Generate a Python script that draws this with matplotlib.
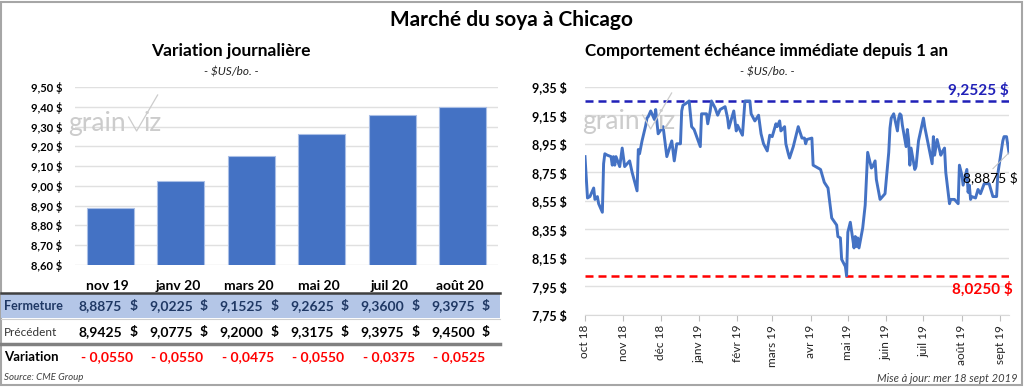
import numpy as np
import pandas as pd
import matplotlib
matplotlib.use('Agg')
import matplotlib.pyplot as plt
import matplotlib.transforms as mtransforms
from matplotlib.lines import Line2D
from matplotlib.patches import Rectangle

plt.rcParams['font.family'] = ['Lato', 'DejaVu Sans']

# ---- data: left panel (contrats)
contrats = ['nov 19', 'janv 20', 'mars 20', 'mai 20', 'juil 20', 'août 20']
fermeture = [8.8875, 9.0225, 9.1525, 9.2625, 9.3600, 9.3975]
precedent = [8.9425, 9.0775, 9.2000, 9.3175, 9.3975, 9.4500]
variation = [-0.0550, -0.0550, -0.0475, -0.0550, -0.0375, -0.0525]
yticks_bar = [8.60, 8.70, 8.80, 8.90, 9.00, 9.10, 9.20, 9.30, 9.40, 9.50]

# ---- data: right panel (echeance immediate)
dates = ['2018-10-01', '2018-10-03', '2018-10-05', '2018-10-08', '2018-10-09', '2018-10-11',
         '2018-10-12', '2018-10-15', '2018-10-16', '2018-10-17', '2018-10-19', '2018-10-22',
         '2018-10-23', '2018-10-24', '2018-10-25', '2018-10-26', '2018-10-29', '2018-10-31',
         '2018-11-02', '2018-11-06', '2018-11-08', '2018-11-12', '2018-11-13', '2018-11-14',
         '2018-11-16', '2018-11-19', '2018-11-20', '2018-11-21', '2018-11-23', '2018-11-26',
         '2018-11-27', '2018-11-29', '2018-12-03', '2018-12-06', '2018-12-10', '2018-12-12',
         '2018-12-14', '2018-12-17', '2018-12-18', '2018-12-19', '2018-12-21', '2018-12-24',
         '2018-12-26', '2018-12-28', '2019-01-02', '2019-01-03', '2019-01-07', '2019-01-08',
         '2019-01-10', '2019-01-11', '2019-01-14', '2019-01-16', '2019-01-18', '2019-01-22',
         '2019-01-24', '2019-01-25', '2019-01-29', '2019-01-31', '2019-02-01', '2019-02-05',
         '2019-02-07', '2019-02-11', '2019-02-12', '2019-02-15', '2019-02-18', '2019-02-20',
         '2019-02-22', '2019-02-25', '2019-02-27', '2019-03-01', '2019-03-04', '2019-03-05',
         '2019-03-07', '2019-03-08', '2019-03-11', '2019-03-12', '2019-03-14', '2019-03-15',
         '2019-03-18', '2019-03-20', '2019-03-22', '2019-03-25', '2019-03-27', '2019-03-28',
         '2019-03-29', '2019-04-02', '2019-04-03', '2019-04-05', '2019-04-09', '2019-04-10',
         '2019-04-12', '2019-04-15', '2019-04-16', '2019-04-18', '2019-04-22', '2019-04-23',
         '2019-04-25', '2019-04-26', '2019-04-29', '2019-04-30', '2019-05-01', '2019-05-03',
         '2019-05-06', '2019-05-07', '2019-05-08', '2019-05-09', '2019-05-10', '2019-05-13',
         '2019-05-15', '2019-05-17', '2019-05-20', '2019-05-21', '2019-05-23', '2019-05-24',
         '2019-05-27', '2019-05-31', '2019-06-03', '2019-06-04', '2019-06-05', '2019-06-07',
         '2019-06-10', '2019-06-11', '2019-06-12', '2019-06-13', '2019-06-14', '2019-06-17',
         '2019-06-18', '2019-06-19', '2019-06-20', '2019-06-21', '2019-06-24', '2019-06-25',
         '2019-06-27', '2019-07-01', '2019-07-02', '2019-07-05', '2019-07-08', '2019-07-09',
         '2019-07-10', '2019-07-12', '2019-07-15', '2019-07-16', '2019-07-18', '2019-07-19',
         '2019-07-22', '2019-07-23', '2019-07-26', '2019-07-29', '2019-07-30', '2019-08-01',
         '2019-08-02', '2019-08-05', '2019-08-06', '2019-08-07', '2019-08-08', '2019-08-09',
         '2019-08-12', '2019-08-14', '2019-08-16', '2019-08-19', '2019-08-23', '2019-08-26',
         '2019-08-29', '2019-08-30', '2019-09-03', '2019-09-04', '2019-09-06', '2019-09-08']
prix = [8.86, 8.57, 8.58, 8.64, 8.56, 8.58,
        8.53, 8.47, 8.81, 8.88, 8.87, 8.86,
        8.80, 8.86, 8.80, 8.86, 8.79, 8.92,
        8.79, 8.83, 8.75, 8.62, 8.91, 8.88,
        8.97, 9.08, 9.13, 9.14, 9.18, 9.12,
        9.19, 9.02, 9.07, 8.86, 8.97, 8.83,
        8.95, 8.95, 9.18, 9.22, 9.23, 9.25,
        9.07, 9.05, 8.93, 9.16, 9.16, 9.09,
        9.18, 9.25, 9.20, 9.15, 9.19, 9.21,
        9.13, 9.06, 9.18, 9.04, 9.08, 9.01,
        9.25, 9.25, 9.16, 9.11, 9.15, 9.02,
        8.95, 8.90, 9.01, 9.00, 9.09, 9.07,
        9.11, 9.04, 9.07, 8.95, 8.88, 8.85,
        8.93, 9.00, 9.07, 8.99, 8.99, 8.95,
        8.98, 8.99, 8.80, 8.79, 8.77, 8.74,
        8.68, 8.64, 8.57, 8.43, 8.38, 8.30,
        8.29, 8.14, 8.09, 8.025, 8.33, 8.40,
        8.22, 8.30, 8.23, 8.29, 8.22, 8.36,
        8.52, 8.89, 8.78, 8.79, 8.83, 8.70,
        8.56, 8.60, 8.89, 9.06, 9.13, 9.16,
        9.04, 9.13, 9.16, 9.15, 9.08, 8.93,
        9.05, 8.98, 8.80, 8.92, 8.77, 8.79,
        8.97, 9.13, 9.07, 8.94, 8.81, 9.00,
        8.87, 8.98, 8.87, 8.89, 8.92, 8.75,
        8.53, 8.56, 8.56, 8.53, 8.80, 8.73,
        8.66, 8.77, 8.61, 8.66, 8.56, 8.58,
        8.57, 8.63, 8.60, 8.67, 8.67, 8.58,
        8.58, 8.74, 8.97, 9.00, 9.00, 8.8875]
haut = 9.2525
bas = 8.0250
dernier = 8.8875
mois = ['2018-10-01', '2018-11-01', '2018-12-01', '2019-01-01', '2019-02-01', '2019-03-01',
        '2019-04-01', '2019-05-01', '2019-06-01', '2019-07-01', '2019-08-01', '2019-09-01']
mois_labels = ['oct 18', 'nov 18', 'déc 18', 'janv 19', 'févr 19', 'mars 19',
               'avr 19', 'mai 19', 'juin 19', 'juil 19', 'août 19', 'sept 19']
yticks_line = [7.75, 7.95, 8.15, 8.35, 8.55, 8.75, 8.95, 9.15, 9.35]

W, H = 1024, 387
def fx(x): return x / W
def fy(y): return 1 - y / H

def fr(v, n=2):
    return ('%.*f' % (n, v)).replace('.', ',')

blue = '#4472c4'
grid = '#e0e0e0'
fig = plt.figure(figsize=(10.24, 3.87), dpi=100)

# border
fig.patches.append(Rectangle((fx(1), fy(385)), fx(1021), 383 / H, transform=fig.transFigure,
                             fill=False, edgecolor='#a6a6a6', linewidth=1.5))

fig.text(fx(511), fy(20), 'Marché du soya à Chicago', ha='center', va='center',
         fontsize=15, fontweight='bold')

# ---------------- left bars
ax1 = fig.add_axes([fx(75), fy(265), fx(498 - 75), (265 - 87) / H])
x = np.arange(len(contrats))
ax1.bar(x, fermeture, width=0.66, color=blue, edgecolor='#aabfe6', linewidth=0.8, zorder=3)
ax1.set_xlim(-0.5, len(contrats) - 0.5)
ax1.set_ylim(8.60, 9.50)
ax1.set_yticks(yticks_bar)
ax1.set_yticklabels([fr(v) + ' $' for v in yticks_bar], fontsize=8, fontweight='bold')
ax1.set_xticks([])
ax1.yaxis.grid(True, color=grid, linewidth=1, zorder=0)
ax1.tick_params(axis='y', length=0, pad=9)
for s in ax1.spines.values():
    s.set_visible(False)

fig.text(fx(231), fy(51), 'Variation journalière', ha='center', va='center',
         fontsize=12.5, fontweight='bold')
fig.text(fx(231), fy(72), '- $US/bo. -', ha='center', va='center',
         fontsize=8.5, style='italic', color='#222222')

# table under bars
tr = mtransforms.blended_transform_factory(ax1.transData, fig.transFigure)
fig.patches.append(Rectangle((fx(1), fy(318)), fx(499), 25 / H, transform=fig.transFigure,
                             facecolor='#b4c6e7', edgecolor='none'))
fig.lines.append(Line2D([fx(1), fx(500)], [fy(293), fy(293)], transform=fig.transFigure,
                        color='#404040', linewidth=1.8))
fig.lines.append(Line2D([fx(1), fx(500)], [fy(318.5), fy(318.5)], transform=fig.transFigure,
                        color='#d0d0d0', linewidth=0.8))
fig.lines.append(Line2D([fx(1), fx(500)], [fy(344), fy(344)], transform=fig.transFigure,
                        color='#808080', linewidth=2.5))
fig.text(fx(4), fy(306), 'Fermeture', ha='left', va='center', fontsize=9,
         fontweight='bold', color='#1f3864')
fig.text(fx(4), fy(332), 'Précédent', ha='left', va='center', fontsize=8.5, color='#333333')
fig.text(fx(4), fy(357), 'Variation', ha='left', va='center', fontsize=9.5, fontweight='bold')
for i in range(len(contrats)):
    fig.text(i - 0.04, fy(286), contrats[i], transform=tr, ha='center', va='center',
             fontsize=10, fontweight='bold')
    fig.text(i + 0.17, fy(306), fr(fermeture[i], 4), transform=tr, ha='right', va='center',
             fontsize=10, fontweight='bold', color='#1f3864')
    fig.text(i + 0.33, fy(306), '$', transform=tr, ha='center', va='center',
             fontsize=10, fontweight='bold', color='#1f3864')
    fig.text(i + 0.17, fy(332), fr(precedent[i], 4), transform=tr, ha='right', va='center',
             fontsize=10, fontweight='bold')
    fig.text(i + 0.33, fy(332), '$', transform=tr, ha='center', va='center',
             fontsize=10, fontweight='bold')
    fig.text(i - 0.05, fy(357), '- ' + fr(abs(variation[i]), 4), transform=tr, ha='center',
             va='center', fontsize=10, fontweight='bold', color='#ff0000')

fig.text(fx(4), fy(378), 'Source: CME Group', ha='left', va='center', fontsize=7,
         style='italic', color='#404040')

# ---------------- right line
ax2 = fig.add_axes([fx(585), fy(315), fx(1009 - 585), (315 - 86.7) / H])
d = pd.to_datetime(dates)
ax2.plot(d, prix, color=blue, linewidth=2.1, zorder=3)
ax2.axhline(haut, color='#2020b8', linewidth=1.8, dashes=(3.2, 2), zorder=2)
ax2.axhline(bas, color='#ff0000', linewidth=1.8, dashes=(3.2, 2), zorder=2)
ax2.set_xlim(pd.Timestamp('2018-10-01'), pd.Timestamp('2019-09-08'))
ax2.set_ylim(7.75, 9.35)
ax2.set_yticks(yticks_line)
ax2.set_yticklabels([fr(v) + ' $' for v in yticks_line], fontsize=9, fontweight='bold')
ax2.set_xticks(pd.to_datetime(mois))
ax2.set_xticklabels(mois_labels, rotation=90, fontsize=8.5, color='#222222')
ax2.yaxis.grid(True, color=grid, linewidth=1, zorder=0)
ax2.tick_params(axis='y', length=0, pad=13)
ax2.tick_params(axis='x', length=4, color='#bfbfbf', pad=3)
for k, s in ax2.spines.items():
    s.set_visible(k == 'bottom')
ax2.spines['bottom'].set_color('#d9d9d9')

ax2.text(1.0, haut + 0.02, fr(haut, 4) + ' $', transform=ax2.get_yaxis_transform(),
         ha='right', va='bottom', fontsize=11, fontweight='bold', color='#2020b8')
ax2.text(1.01, bas - 0.04, fr(bas, 4) + ' $', transform=ax2.get_yaxis_transform(),
         ha='right', va='top', fontsize=11, fontweight='bold', color='#ff0000')
ax2.annotate(fr(dernier, 4) + ' $', xy=(d[-1], dernier), xytext=(fx(990), fy(178)),
             textcoords='figure fraction', ha='center', va='center', fontsize=10,
             arrowprops=dict(arrowstyle='-', color='#c0c0c0', linewidth=0.7,
                             shrinkA=0, shrinkB=0, relpos=(0.5, 1.0)))

fig.text(fx(767), fy(51), 'Comportement échéance immédiate depuis 1 an', ha='center',
         va='center', fontsize=12.2, fontweight='bold')
fig.text(fx(767), fy(72), '- $US/bo. -', ha='center', va='center',
         fontsize=8.5, style='italic', color='#222222')
fig.text(fx(1018), fy(378), 'Mise à jour: mer 18 sept 2019', ha='right', va='center',
         fontsize=8, style='italic', color='#404040')

# watermark logos (grain + check stroke + iz)
renderer = fig.canvas.get_renderer()
wm = '#cccccc'
for x0, yb in [(68, 131), (582, 129)]:
    t = fig.text(fx(x0), fy(yb), 'grain', ha='left', va='baseline', fontsize=19,
                 color=wm, zorder=0)
    x1 = t.get_window_extent(renderer).x1  # pixels from left
    fig.lines.append(Line2D([fx(x1 + 3), fx(x1 + 11), fx(x1 + 32)],
                            [fy(yb - 14), fy(yb), fy(yb - 36)], transform=fig.transFigure,
                            color=wm, linewidth=0.9, zorder=0))
    fig.text(fx(x1 + 18), fy(yb), 'iz', ha='left', va='baseline', fontsize=19,
             color=wm, zorder=0)

fig.savefig('out.png', dpi=100)
